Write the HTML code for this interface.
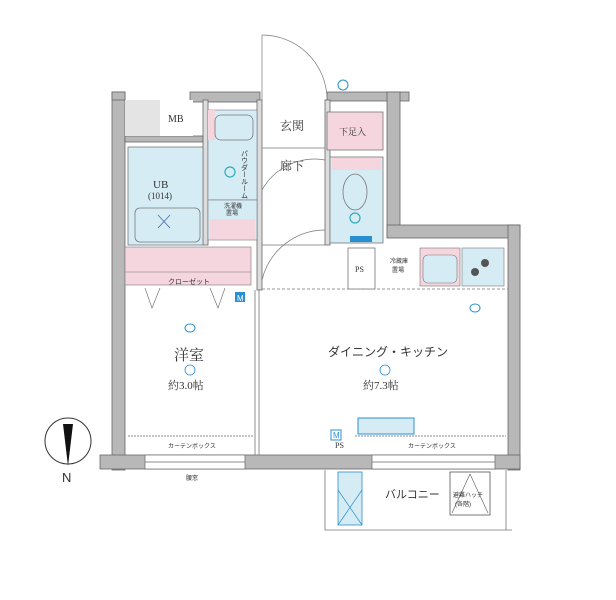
<!DOCTYPE html>
<html><head><meta charset="utf-8"><style>
body{margin:0;background:#fff}
svg{display:block}
text{font-family:"Liberation Serif","Noto Serif CJK SC",serif;fill:#333}
.s{font-family:"Liberation Sans","Noto Sans CJK JP",sans-serif}
</style></head><body>
<svg width="616" height="600" viewBox="0 0 616 600" xmlns="http://www.w3.org/2000/svg">
<g fill="#b8b8b8" stroke="#666" stroke-width="0.8">
<!-- left wall -->
<rect x="112" y="92" width="13" height="378"/>
<!-- top walls -->
<rect x="112" y="92" width="13" height="8"/>
<rect x="190" y="92" width="70" height="10"/>
<rect x="327" y="92" width="82" height="9"/>
<!-- right upper wall -->
<rect x="387" y="92" width="13" height="145"/>
<rect x="387" y="225" width="133" height="13"/>
<!-- right wall -->
<rect x="508" y="225" width="12" height="245"/>
<!-- bottom wall -->
<rect x="100" y="455" width="420" height="14"/>
<!-- inner walls -->
<rect x="125" y="136" width="78" height="6"/>
<rect x="203" y="100" width="5" height="145" fill="#ddd"/>
<rect x="257" y="100" width="5" height="190" fill="#ddd"/>
<rect x="325" y="100" width="5" height="145" fill="#ddd"/>
</g>
<!-- MB -->
<rect x="125" y="100" width="68" height="36" fill="#e4e4e4"/>
<rect x="160" y="100" width="33" height="36" fill="#fff"/>
<text x="168" y="122" font-size="10">MB</text>
<!-- UB -->
<rect x="128" y="147" width="75" height="98" fill="#d6ecf5" stroke="#777" stroke-width="0.8"/>
<rect x="135" y="208" width="65" height="34" fill="#d6ecf5" stroke="#777" stroke-width="0.8" rx="5"/>
<path d="M158 215 L170 228 M170 215 L158 228" stroke="#46a" stroke-width="0.8"/>
<text x="153" y="188" font-size="11">UB</text>
<text x="148" y="199" font-size="9">(1014)</text>
<!-- powder -->
<rect x="208" y="110" width="49" height="90" fill="#d6ecf5" stroke="#777" stroke-width="0.6"/>
<rect x="208" y="110" width="7" height="30" fill="#f5d5de"/>
<rect x="215" y="115" width="38" height="25" rx="6" fill="#d6ecf5" stroke="#777" stroke-width="0.8"/>
<circle cx="230" cy="172" r="5" fill="none" stroke="#3ab" stroke-width="1.2"/>
<text class="s" x="244" y="150" font-size="7" writing-mode="tb">パウダールーム</text>
<rect x="208" y="200" width="49" height="40" fill="#d6ecf5" stroke="#777" stroke-width="0.6"/>
<rect x="210" y="219" width="45" height="20" fill="#f5d5de"/>
<text class="s" x="224" y="208" font-size="6">洗濯機</text>
<text class="s" x="226" y="215" font-size="6">置場</text>
<!-- closet -->
<rect x="125" y="247" width="126" height="38" fill="#f5d5de" stroke="#777" stroke-width="0.6"/>
<line x1="125" y1="272" x2="251" y2="272" stroke="#777" stroke-width="0.6"/>
<text class="s" x="168" y="284" font-size="7">クローゼット</text>
<path d="M145 288 L152 308 L160 288 M210 288 L218 308 L225 288" fill="none" stroke="#666" stroke-width="0.6"/>
<rect x="235" y="292" width="10" height="10" fill="#2a8fd0"/>
<text class="s" x="237" y="301" font-size="8" style="fill:#fff">M</text>
<!-- genkan -->
<text x="280" y="130" font-size="12">玄関</text>
<text x="280" y="170" font-size="12">廊下</text>
<line x1="262" y1="148" x2="325" y2="148" stroke="#777" stroke-width="0.8"/>
<path d="M262 35 A65 65 0 0 1 327 97" fill="none" stroke="#777" stroke-width="0.7"/>
<line x1="262" y1="35" x2="262" y2="100" stroke="#777" stroke-width="0.7"/>
<path d="M262 190 A60 60 0 0 1 325 160" fill="none" stroke="#777" stroke-width="0.7"/>
<path d="M262 280 A65 65 0 0 1 325 230" fill="none" stroke="#777" stroke-width="0.7"/>
<line x1="262" y1="245" x2="325" y2="245" stroke="#777" stroke-width="0.7"/>
<!-- shoes -->
<rect x="327" y="112" width="56" height="38" fill="#f5d5de" stroke="#777" stroke-width="0.8"/>
<text x="339" y="135" font-size="9">下足入</text>
<circle cx="343" cy="85" r="5" fill="none" stroke="#2a8fd0"/>
<!-- toilet -->
<rect x="330" y="157" width="53" height="86" fill="#d6ecf5" stroke="#777" stroke-width="0.8"/>
<rect x="332" y="158" width="49" height="12" fill="#f5d5de"/>
<ellipse cx="355" cy="192" rx="12" ry="18" fill="#d6ecf5" stroke="#777" stroke-width="0.8"/>
<circle cx="355" cy="218" r="5" fill="none" stroke="#3ab" stroke-width="1.2"/>
<rect x="350" y="236" width="22" height="6" fill="#2a8fd0"/>
<!-- kitchen row -->
<line x1="262" y1="289" x2="508" y2="289" stroke="#777" stroke-width="0.8" stroke-dasharray="3,2"/>
<rect x="348" y="248" width="27" height="41" fill="#fff" stroke="#777" stroke-width="0.8"/>
<text x="355" y="272" font-size="8">PS</text>
<text class="s" x="390" y="263" font-size="6">冷蔵庫</text>
<text class="s" x="392" y="272" font-size="6">置場</text>
<rect x="420" y="248" width="40" height="38" fill="#f5d5de" stroke="#777" stroke-width="0.6"/>
<rect x="423" y="255" width="34" height="28" rx="5" fill="#d6ecf5" stroke="#777" stroke-width="0.6"/>
<rect x="462" y="248" width="42" height="38" fill="#d6ecf5" stroke="#777" stroke-width="0.6"/>
<circle cx="485" cy="263" r="4" fill="#555"/><circle cx="475" cy="272" r="4" fill="#555"/>
<!-- rooms -->
<line x1="255" y1="290" x2="255" y2="455" stroke="#777" stroke-width="0.8"/>
<line x1="259" y1="290" x2="259" y2="455" stroke="#777" stroke-width="0.8"/>
<text x="174" y="360" font-size="15">洋室</text>
<circle cx="190" cy="370" r="5" fill="none" stroke="#2a8fd0" stroke-width="0.8"/>
<text x="168" y="389" font-size="11">約3.0帖</text>
<ellipse cx="190" cy="328" rx="5" ry="4" fill="none" stroke="#2a8fd0"/>
<text class="s" x="328" y="356" font-size="12">ダイニング・キッチン</text>
<circle cx="385" cy="370" r="5" fill="none" stroke="#2a8fd0" stroke-width="0.8"/>
<text x="363" y="389" font-size="11">約7.3帖</text>
<ellipse cx="475" cy="308" rx="5" ry="4" fill="none" stroke="#2a8fd0"/>
<!-- bottom curtain -->
<line x1="128" y1="436" x2="253" y2="436" stroke="#888" stroke-dasharray="2,1"/>
<line x1="355" y1="436" x2="506" y2="436" stroke="#888" stroke-dasharray="2,1"/>
<text class="s" x="168" y="448" font-size="6">カーテンボックス</text>
<text class="s" x="408" y="448" font-size="6">カーテンボックス</text>
<rect x="331" y="430" width="10" height="10" fill="#fff" stroke="#2a8fd0"/>
<text class="s" x="333" y="438" font-size="8" style="fill:#2a8fd0">M</text>
<text x="335" y="448" font-size="8">PS</text>
<rect x="358" y="418" width="56" height="16" fill="#d6ecf5" stroke="#2a8fd0"/>
<!-- windows -->
<rect x="145" y="455" width="100" height="14" fill="#fff" stroke="#666" stroke-width="0.7"/>
<line x1="145" y1="462" x2="245" y2="462" stroke="#666" stroke-width="0.7"/>
<rect x="372" y="455" width="123" height="14" fill="#fff" stroke="#666" stroke-width="0.7"/>
<line x1="372" y1="462" x2="495" y2="462" stroke="#666" stroke-width="0.7"/>
<text class="s" x="186" y="480" font-size="6">腰窓</text>
<!-- balcony -->
<path d="M325 470 V530 H512 M506 470 V530" fill="none" stroke="#777" stroke-width="0.8"/>
<rect x="338" y="472" width="24" height="53" fill="#d6ecf5" stroke="#2a8fd0" stroke-width="0.8"/>
<path d="M338 490 L362 525 M362 490 L338 525" stroke="#2a8fd0" stroke-width="0.7"/>
<text x="385" y="498" font-size="11" class="s">バルコニー</text>
<rect x="450" y="472" width="40" height="43" fill="#fff" stroke="#555" stroke-width="0.8"/>
<path d="M470 474 L452 513 M470 474 L488 513" stroke="#555" stroke-width="0.6" fill="none"/>
<text class="s" x="453" y="497" font-size="6">避難ハッチ</text>
<text class="s" x="455" y="506" font-size="6">(各階)</text>
<!-- compass -->
<circle cx="68" cy="441" r="23" fill="#fff" stroke="#333" stroke-width="1"/>
<path d="M63 424 L73 424 L68 466 Z" fill="#111"/>
<text class="s" x="62" y="482" font-size="13">N</text>
</svg>
</body></html>
